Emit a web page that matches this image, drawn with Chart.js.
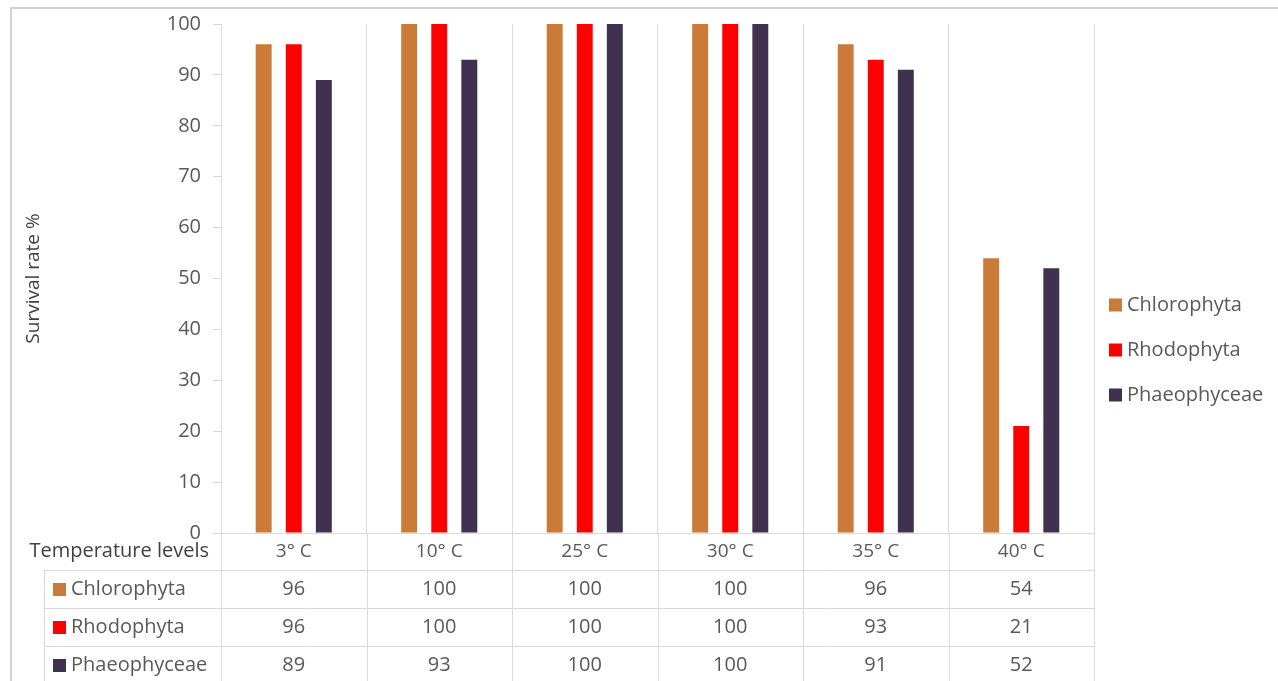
<!DOCTYPE html>
<html>
<head>
<meta charset="utf-8">
<title>Survival rate by temperature</title>
<script src="https://cdn.jsdelivr.net/npm/chart.js@4.4.1/dist/chart.umd.min.js"></script>
<style>
  html, body { margin: 0; padding: 0; background: #fff; }
  #wrap { width: 1278px; height: 681px; }
</style>
</head>
<body>
<div id="wrap"><canvas id="myChart" width="1278" height="681"></canvas></div>
<script>
// Data
const categories = ['3° C', '10° C', '25° C', '30° C', '35° C', '40° C'];
const chlorophyta = [96, 100, 100, 100, 96, 54];
const rhodophyta = [96, 100, 100, 100, 93, 21];
const phaeophyceae = [89, 93, 100, 100, 91, 52];
const seriesNames = ['Chlorophyta', 'Rhodophyta', 'Phaeophyceae'];
const seriesColors = ['#CC7A37', '#FF0000', '#403151'];
const tableTitle = 'Temperature levels';

const FONT = "'Open Sans', sans-serif";
const TEXT = '#595959';
const LINE = '#d9d9d9';

Chart.defaults.font.family = FONT;
Chart.defaults.color = TEXT;

// Draws the outer frame, the data table under the plot and the legend on the right
const tablePlugin = {
  id: 'dataTable',
  beforeDraw(chart) {
    const ctx = chart.ctx;
    ctx.save();
    ctx.strokeStyle = '#d2d2d2';
    ctx.lineWidth = 2;
    ctx.beginPath();
    ctx.moveTo(11, chart.height);
    ctx.lineTo(11, 8);
    ctx.lineTo(chart.width, 8);
    ctx.stroke();
    ctx.restore();
  },
  afterDraw(chart) {
    const { ctx, chartArea } = chart;
    const x = chart.scales.x;
    const n = categories.length;
    const colW = (chartArea.right - chartArea.left) / n;
    const headerH = 37;
    const rowH = 38;
    const tableLeft = 44;
    const bottom = chart.height;
    const rows = [chlorophyta, rhodophyta, phaeophyceae];

    ctx.save();
    ctx.strokeStyle = LINE;
    ctx.lineWidth = 1;

    // vertical lines continuing below the plot
    for (let i = 0; i <= n; i++) {
      const bx = Math.round(chartArea.left + i * colW) + 0.5;
      ctx.beginPath();
      ctx.moveTo(bx, chartArea.bottom);
      ctx.lineTo(bx, bottom);
      ctx.stroke();
    }
    // left edge of the table body
    ctx.beginPath();
    ctx.moveTo(tableLeft + 0.5, chartArea.bottom + headerH);
    ctx.lineTo(tableLeft + 0.5, bottom);
    ctx.stroke();
    // horizontal row lines
    for (let r = 0; r < rows.length; r++) {
      const y = Math.round(chartArea.bottom + headerH + r * rowH) + 0.5;
      ctx.beginPath();
      ctx.moveTo(tableLeft, y);
      ctx.lineTo(chartArea.right, y);
      ctx.stroke();
    }

    // header row
    ctx.textBaseline = 'middle';
    const headY = chartArea.bottom + headerH / 2;
    ctx.font = '20px ' + FONT;
    ctx.fillStyle = '#404040';
    ctx.textAlign = 'right';
    ctx.fillText(tableTitle, 209, headY);
    ctx.font = '19px ' + FONT;
    ctx.fillStyle = TEXT;
    ctx.textAlign = 'center';
    categories.forEach((c, i) => ctx.fillText(c, x.getPixelForValue(i), headY));

    // body rows
    rows.forEach((vals, r) => {
      const cy = chartArea.bottom + headerH + r * rowH + rowH / 2;
      ctx.fillStyle = seriesColors[r];
      ctx.fillRect(53, Math.round(cy - 6.5), 13, 13);
      ctx.font = '20px ' + FONT;
      ctx.fillStyle = TEXT;
      ctx.textAlign = 'left';
      ctx.fillText(seriesNames[r], 71, cy);
      ctx.textAlign = 'center';
      vals.forEach((v, i) => ctx.fillText(String(v), x.getPixelForValue(i), cy));
    });

    // legend on the right
    const legendY = [305, 350, 395];
    ctx.font = '20px ' + FONT;
    ctx.textAlign = 'left';
    chart.data.datasets.forEach((ds, i) => {
      ctx.fillStyle = ds.backgroundColor;
      ctx.fillRect(1109, legendY[i] - 6.5, 13, 13);
      ctx.fillStyle = TEXT;
      ctx.fillText(ds.label, 1127, legendY[i]);
    });
    ctx.restore();
  }
};

const ctx = document.getElementById('myChart').getContext('2d');
const chart = new Chart(ctx, {
  type: 'bar',
  data: {
    labels: categories,
    datasets: [
      { label: seriesNames[0], data: chlorophyta, backgroundColor: seriesColors[0] },
      { label: seriesNames[1], data: rhodophyta, backgroundColor: seriesColors[1] },
      { label: seriesNames[2], data: phaeophyceae, backgroundColor: seriesColors[2] },
    ],
  },
  options: {
    responsive: false,
    animation: false,
    categoryPercentage: 0.62,
    barPercentage: 0.53,
    layout: { padding: { top: 23, right: 184, left: 0, bottom: 0 } },
    plugins: {
      legend: { display: false },
      tooltip: { enabled: false },
    },
    scales: {
      x: {
        ticks: { display: false },
        grid: { offset: true, color: LINE, drawTicks: false },
        border: { color: LINE },
        afterFit(scale) { scale.height = 148; },
      },
      y: {
        min: 0,
        max: 100,
        ticks: { stepSize: 10, padding: 12, color: TEXT, font: { size: 20 } },
        grid: { drawOnChartArea: false, tickLength: 8, color: LINE },
        border: { color: LINE },
        title: {
          display: true,
          text: 'Survival rate %',
          color: '#404040',
          font: { size: 19 },
          padding: { top: 22, bottom: 0 },
        },
        afterFit(scale) { scale.width = 221; },
      },
    },
  },
  plugins: [tablePlugin],
});
</script>
</body>
</html>
